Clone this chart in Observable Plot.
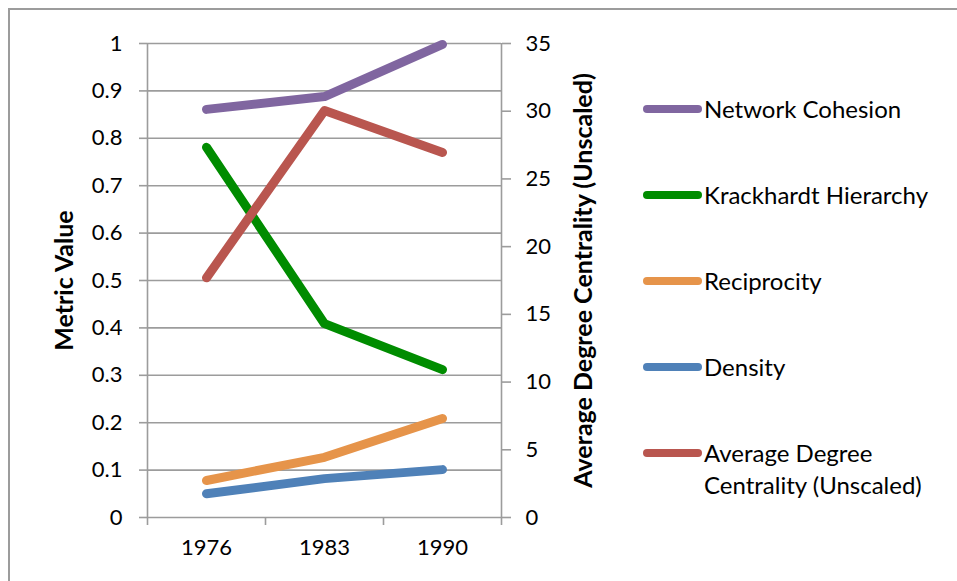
<!DOCTYPE html>
<html>
<head>
<meta charset="utf-8">
<script src="https://cdn.jsdelivr.net/npm/d3@7"></script>
<script src="https://cdn.jsdelivr.net/npm/@observablehq/plot@0.6"></script>
<style>
  html, body { margin: 0; padding: 0; background: #fff; }
  #wrap { position: relative; width: 957px; height: 581px; overflow: hidden; font-family: Lato, sans-serif; }
  #frame { position: absolute; left: 8px; top: 8px; width: 2000px; height: 2000px; border-left: 2px solid #9c9c9c; border-top: 2px solid #9c9c9c; }
  #chart { position: absolute; left: 0; top: 0; }
  #chart svg [aria-label$="axis label"] text { font-weight: bold; font-size: 25px; }
  .leg { position: absolute; left: 643px; font-size: 24px; color: #000; line-height: 32px; }
  .leg .sw { position: absolute; left: 0; width: 59px; height: 8px; border-radius: 4px; }
  .leg .tx { position: absolute; left: 61px; white-space: nowrap; }
</style>
</head>
<body>
<div id="wrap">
  <div id="frame"></div>
  <div id="chart"></div>
  <div id="legend"></div>
</div>
<script>
const years = ["1976", "1983", "1990"];
const seriesNames = ["Network Cohesion", "Krackhardt Hierarchy", "Reciprocity", "Density", "Average Degree Centrality (Unscaled)"];
const seriesColors = ["#8066A0", "#008C00", "#E6944A", "#4F81B8", "#B9564F"];
const networkCohesion = [0.861, 0.888, 0.998];
const krackhardtHierarchy = [0.781, 0.409, 0.312];
const reciprocity = [0.078, 0.127, 0.209];
const density = [0.050, 0.082, 0.101];
const avgDegreeCentrality = [17.7, 30.05, 26.95];   // right axis (0–35)
const leftTicks = [0, 0.1, 0.2, 0.3, 0.4, 0.5, 0.6, 0.7, 0.8, 0.9, 1];
const rightTicks = [0, 5, 10, 15, 20, 25, 30, 35];
const rightMax = 35;

const allSeries = [networkCohesion, krackhardtHierarchy, reciprocity, density, avgDegreeCentrality];
const rows = [];
allSeries.forEach((vals, s) => {
  vals.forEach((v, i) => {
    rows.push({series: seriesNames[s], color: seriesColors[s], xi: i + 0.5,
               y: s === 4 ? v / rightMax : v});
  });
});

const gray = "#9c9c9c";
const plot = Plot.plot({
  width: 957,
  height: 581,
  marginLeft: 147,
  marginRight: 456,
  marginTop: 43,
  marginBottom: 64,
  style: {fontFamily: "Lato, sans-serif", fontSize: "22px", color: "#000", background: "transparent"},
  x: {domain: [0, years.length]},
  y: {domain: [0, 1]},
  marks: [
    Plot.gridY(leftTicks, {stroke: gray, strokeOpacity: 1, strokeWidth: 1.6}),
    Plot.ruleX([0, years.length], {stroke: gray, strokeWidth: 1.6}),
    Plot.axisY(leftTicks, {anchor: "left", tickSize: 8, tickPadding: 17, stroke: gray, strokeWidth: 1.6,
      tickFormat: d => String(+d.toFixed(1)), label: "Metric Value", labelAnchor: "center", labelArrow: "none", labelOffset: 92}),
    Plot.axisY(rightTicks.map(v => v / rightMax), {anchor: "right", tickSize: 9, tickPadding: 15, stroke: gray, strokeWidth: 1.6,
      tickFormat: d => String(Math.round(d * rightMax)), label: "Average Degree Centrality (Unscaled)", labelAnchor: "center", labelArrow: "none", labelOffset: 90}),
    Plot.axisX(d3.range(0, years.length + 1), {tickSize: 8, stroke: gray, strokeWidth: 1.6, tickFormat: () => "", label: null}),
    Plot.axisX(years.map((y, i) => i + 0.5), {tickSize: 0, tickPadding: 22, tickFormat: d => years[Math.floor(d)], label: null}),
    Plot.line(rows, {x: "xi", y: "y", z: "series", stroke: "color", strokeWidth: 9,
      strokeLinecap: "round", strokeLinejoin: "round"})
  ]
});
document.getElementById("chart").appendChild(plot);

const legendY = [109, 195, 281, 367, 453];
const legend = document.getElementById("legend");
seriesNames.forEach((name, i) => {
  const d = document.createElement("div");
  d.className = "leg";
  d.style.top = (legendY[i] - 16) + "px";
  const sw = document.createElement("div");
  sw.className = "sw";
  sw.style.background = seriesColors[i];
  sw.style.top = "12px";
  const tx = document.createElement("div");
  tx.className = "tx";
  tx.innerHTML = i === 4 ? "Average Degree<br>Centrality (Unscaled)" : name;
  d.appendChild(sw); d.appendChild(tx);
  legend.appendChild(d);
});
</script>
</body>
</html>
